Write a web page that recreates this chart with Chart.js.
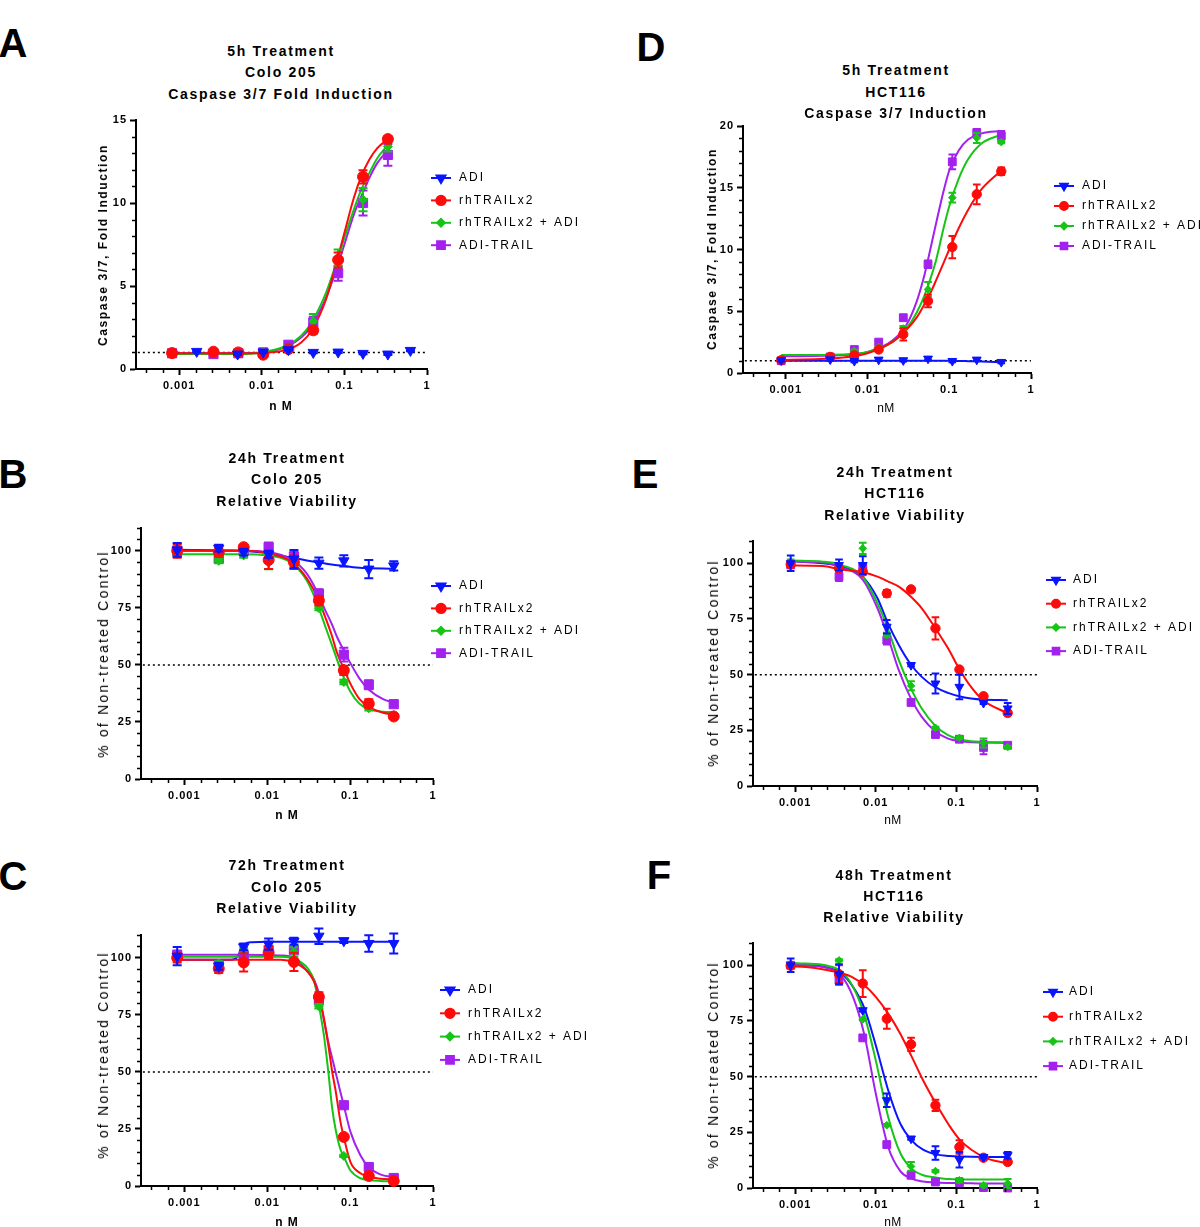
<!DOCTYPE html>
<html>
<head>
<meta charset="utf-8">
<script src="https://cdn.jsdelivr.net/npm/chart.js@4.4.1/dist/chart.umd.min.js"></script>
<style>
    body {
        margin: 0;
        background: #fff;
        overflow: hidden;
    }

    #page {
        position: relative;
        width: 1200px;
        height: 1227px;
        overflow: hidden;
        font-family: "Liberation Sans", Arial, sans-serif;
        color: #000;
    }
</style>
</head>
<body>
<div id="page"></div>
<script>
// ---- series ----
const seriesNames = ["ADI", "rhTRAILx2", "rhTRAILx2 + ADI", "ADI-TRAIL"];
const seriesColors = ["#0a14ff", "#ff0a0a", "#16c416", "#a321ee"];
const seriesShapes = ["triangle", "circle", "rectRot", "rect"];
const seriesRotation = [180, 0, 0, 0];
const seriesRadius = [6, 5.5, 4.5, 6.5];

// ---- axes ----
const xMin = 0.000316;
const xMax = 1;
const xTickVals = [0.001, 0.01, 0.1, 1];
const xTickLabels = ["0.001", "0.01", "0.1", "1"];
const xMinorExp = [-3.4, -3.2, -2.8, -2.6, -2.4, -2.2, -1.8, -1.6, -1.4, -1.2, -0.8, -0.6, -0.4, -0.2];
const caspaseTicksA = [0, 5, 10, 15];
const caspaseTicksD = [0, 5, 10, 15, 20];
const viabilityTicks = [0, 25, 50, 75, 100];

// ---- doses (nM) ----
const coloDose = [0.00082, 0.0026, 0.0052, 0.0104, 0.021, 0.042, 0.084, 0.168, 0.336];
const aAdiDose = [0.00163, 0.0051, 0.0104, 0.021, 0.042, 0.084, 0.168, 0.336, 0.63];
const hctDose = [0.00088, 0.0035, 0.0069, 0.0137, 0.0274, 0.055, 0.109, 0.217, 0.433];

// ---- A: 5h Colo 205 caspase ----
const aAdi = [1.06, 0.9, 1.02, 1.16, 1.0, 1.02, 0.94, 0.9, 1.12];
const aAdiErr = [0.05, 0.05, 0.05, 0.05, 0.05, 0.05, 0.05, 0.05, 0.05];
const aTrail = [0.96, 1.04, 1.0, 0.86, 1.2, 2.33, 6.57, 11.58, 13.85];
const aTrailErr = [0.05, 0.05, 0.05, 0.1, 0.1, 0.2, 0.45, 0.4, 0.15];
const aCombo = [1.0, 1.0, 1.0, 1.0, 1.3, 2.87, 6.7, 10.2, 13.4];
const aComboErr = [0, 0, 0, 0, 0.1, 0.45, 0.5, 0.7, 0.3];
const aFusion = [0.95, 0.9, 0.95, 1.0, 1.46, 2.8, 5.77, 10.0, 12.9];
const aFusionErr = [0, 0, 0, 0, 0.1, 0.35, 0.45, 0.75, 0.65];
const aFitX = [0.00082, 0.005, 0.01, 0.02, 0.03, 0.04, 0.06, 0.08, 0.1, 0.13, 0.16, 0.2, 0.25, 0.336];
const aFitTrail = [0.95, 0.95, 0.97, 1.15, 1.6, 2.3, 4.2, 6.4, 8.2, 10.3, 11.6, 12.6, 13.3, 13.85];
const aFitCombo = [0.9, 0.9, 1.0, 1.4, 2.0, 2.8, 4.6, 6.4, 7.9, 9.6, 10.8, 11.8, 12.7, 13.5];
const aFitFusion = [0.95, 0.95, 1.0, 1.35, 1.9, 2.6, 4.3, 6.0, 7.5, 9.3, 10.4, 11.5, 12.4, 13.2];

// ---- B: 24h Colo 205 viability ----
const bAdi = [100.4, 101.2, 99.4, 98.5, 96.4, 94.6, 95.6, 92, 93.4];
const bAdiErr = [3, 1.5, 1.5, 1.5, 4, 2.5, 2.5, 4, 2];
const bTrail = [100, 99.4, 101.6, 96, 95, 78.2, 47.6, 33, 27.4];
const bTrailErr = [3, 2, 1, 4, 3, 2, 2, 2, 0.5];
const bCombo = [98.5, 95.6, 98, 94.9, 95, 74.9, 42.5, 31, 28];
const bComboErr = [1, 1, 1, 3, 2, 1, 1, 1, 0.5];
const bFusion = [100, 96.5, 100, 101.6, 97.5, 81.2, 54.5, 41.3, 32.8];
const bFusionErr = [2, 1, 1, 2, 2, 2, 3, 2, 1];
const bFitX = [0.00082, 0.005, 0.01, 0.02, 0.03, 0.04, 0.05, 0.06, 0.07, 0.085, 0.1, 0.13, 0.17, 0.25, 0.336];
const bFitAdi = [100.5, 100, 99, 97, 95.8, 95, 94.4, 94, 93.7, 93.3, 93, 92.6, 92.4, 92.2, 92.1];
const bFitTrail = [100, 100, 99, 95, 88, 80, 71, 63, 55, 48, 42, 35, 31.5, 29, 28.3];
const bFitCombo = [98.5, 98.5, 98, 94.5, 87, 77, 67, 59, 52, 44, 38.5, 33, 30.5, 29.5, 29.3];
const bFitFusion = [100, 100, 99.5, 96, 90, 82, 74, 68, 62, 56, 51, 44, 39, 35, 33.5];

// ---- C: 72h Colo 205 viability ----
const cAdi = [100.7, 96.3, 104.8, 106, 107.3, 109.5, 107.5, 106.3, 106.3];
const cAdiErr = [4, 1.5, 1.5, 2.5, 1.5, 3.4, 1, 3.6, 4.4];
const cTrail = [100, 95.3, 98, 102.3, 98.2, 82.9, 21.5, 4.4, 2.2];
const cTrailErr = [2, 2, 4, 2.5, 4, 2, 0.5, 0.5, 0.5];
const cCombo = [100, 97.5, 103.4, 102, 102.6, 78.8, 13.2, 4, 2.5];
const cComboErr = [1, 1, 1, 1, 2, 1, 0.5, 0.5, 0.5];
const cFusion = [101.2, 97, 101, 103.4, 103.4, 81.4, 35.4, 8.3, 3.5];
const cFusionErr = [2, 1, 1, 3, 1, 1, 0.5, 0.5, 0.5];
const cFitAdiX = [0.00082, 0.0037, 0.0042, 0.0047, 0.0052, 0.0058, 0.0065, 0.01, 0.336];
const cFitAdi = [99.2, 99.2, 99.8, 102.5, 105.5, 106.6, 106.8, 107, 107];
const cFitX = [0.00082, 0.005, 0.0146, 0.0211, 0.0306, 0.0367, 0.0421, 0.0483, 0.0546, 0.0608, 0.0667, 0.0766, 0.0838, 0.101, 0.133, 0.167, 0.231, 0.336];
const cFitTrail = [99.2, 99.2, 99.2, 98, 94, 89.6, 83.5, 73.5, 61.7, 50, 42, 28, 21.5, 10.5, 5.6, 4.2, 3.2, 2.8];
const cFitCombo = [100.5, 100.5, 100.5, 99.5, 95.5, 90, 79, 66, 50, 34, 25, 16, 13, 6.8, 3.4, 2.6, 2.2, 2];
const cFitFusion = [101.3, 101.3, 101, 100, 94, 90.5, 84, 72.7, 63, 56, 50, 41, 35.4, 23.7, 13.5, 8.3, 5.1, 3.8];

// ---- D: 5h HCT116 caspase ----
const dAdi = [1.03, 1.1, 0.97, 1.08, 1.03, 1.16, 0.97, 1.08, 0.89];
const dAdiErr = [0.1, 0.1, 0.1, 0.1, 0.1, 0.1, 0.1, 0.1, 0.1];
const dTrail = [1.03, 1.3, 1.43, 1.9, 3.13, 5.83, 10.2, 14.47, 16.33];
const dTrailErr = [0.1, 0.1, 0.1, 0.1, 0.5, 0.5, 0.9, 0.8, 0.3];
const dCombo = [1.05, 1.35, 1.78, 2.1, 3.6, 6.77, 14.2, 19.03, 18.7];
const dComboErr = [0, 0, 0.1, 0.1, 0.2, 0.6, 0.4, 0.4, 0.1];
const dFusion = [1.0, 1.3, 1.9, 2.5, 4.48, 8.8, 17.1, 19.46, 19.2];
const dFusionErr = [0, 0, 0.1, 0.1, 0.2, 0.3, 0.6, 0.3, 0.4];
const dFitX = [0.00088, 0.005, 0.01, 0.02, 0.03, 0.04, 0.05, 0.06, 0.07, 0.085, 0.1, 0.13, 0.17, 0.25, 0.433];
const dFitAdi = [1.0, 1.0, 1.0, 1.0, 1.0, 1.0, 1.0, 1.0, 1.0, 0.99, 0.99, 0.98, 0.96, 0.93, 0.88];
const dFitTrail = [1.05, 1.25, 1.6, 2.5, 3.5, 4.5, 5.6, 6.6, 7.6, 8.9, 10.0, 11.7, 13.2, 14.9, 16.4];
const dFitCombo = [1.45, 1.5, 1.7, 2.5, 3.6, 4.9, 6.3, 7.8, 9.3, 11.7, 13.5, 15.7, 17.3, 18.6, 19.3];
const dFitFusion = [1.35, 1.45, 1.7, 2.6, 3.9, 5.8, 8.0, 10.3, 12.3, 14.7, 16.4, 18.0, 18.9, 19.4, 19.6];

// ---- E: 24h HCT116 viability ----
const eAdi = [100, 99.2, 99.2, 71.5, 54.3, 46, 44.5, 37.3, 34.8];
const eAdiErr = [3.5, 2.5, 4, 3, 0.5, 4.5, 5.5, 0.5, 2.5];
const eTrail = [99.5, 97.7, 96.2, 86.5, 88.3, 70.8, 52.3, 40.3, 32.8];
const eTrailErr = [1, 1, 1.5, 1.5, 0.5, 5, 0.5, 0.5, 1];
const eCombo = [100.7, 98, 106.7, 67.8, 45, 26.1, 21.6, 19.3, 17.5];
const eComboErr = [1, 1, 2.5, 1, 2, 0.5, 0.5, 2, 0.5];
const eFusion = [99.3, 94, 98, 65.5, 37.5, 23.1, 21, 17.3, 18.3];
const eFusionErr = [1, 2, 1, 2, 0.5, 1, 0.5, 3, 1];
const eFitX = [0.00088, 0.00222, 0.00348, 0.00685, 0.0105, 0.0139, 0.0193, 0.0267, 0.0372, 0.054, 0.0788, 0.1076, 0.152, 0.215, 0.433];
const eFitAdi = [101, 100, 98.8, 94, 84.3, 73.7, 63.3, 55, 49, 44.5, 41.8, 40.3, 39.3, 38.8, 38.5];
const eFitTrail = [99, 98.8, 97.3, 96, 94, 92, 89.5, 85.3, 79.8, 71.2, 61.8, 52.8, 44.5, 38.5, 32.6];
const eFitCombo = [101.2, 100.7, 99.5, 94, 82, 71.5, 56.5, 44.5, 34.8, 27.3, 22.8, 21, 20.1, 19.8, 19.5];
const eFitFusion = [100.8, 100.3, 98.5, 92.8, 79.8, 67.8, 52, 40, 31, 24.7, 21.3, 20.2, 19.6, 19.5, 19.3];

// ---- F: 48h HCT116 viability ----
const fAdi = [100, 96, 79.8, 39.4, 22.2, 15.7, 12.7, 13.9, 14.7];
const fAdiErr = [3, 4.5, 0.5, 3, 0.5, 3, 3.5, 0.5, 1.5];
const fTrail = [99.8, 96, 91.8, 76, 64.5, 37.1, 18.4, 13.6, 11.7];
const fTrailErr = [1, 4, 6, 4.5, 3, 2.5, 3, 0.5, 0.5];
const fCombo = [100.5, 102.2, 75.7, 28.2, 9.7, 7.6, 3.5, 1.2, 2];
const fComboErr = [1, 0.5, 0.5, 0.5, 2, 0.5, 1, 0.5, 2];
const fFusion = [100, 93.3, 67.4, 19.5, 5.7, 2.7, 2.4, 0.2, 0];
const fFusionErr = [1, 2, 0.5, 0.5, 0.5, 1, 1, 0.5, 0.5];
const fFitX = [0.00088, 0.00136, 0.00237, 0.0037, 0.00522, 0.00724, 0.01, 0.01426, 0.02014, 0.0278, 0.0386, 0.0558, 0.0811, 0.112, 0.219, 0.433];
const fFitAdi = [100.3, 100, 99.2, 96.5, 90.3, 80.6, 64.1, 43.9, 28.9, 21.4, 17.2, 15.1, 14.4, 14.1, 13.9, 13.9];
const fFitTrail = [99.5, 99.2, 98, 96.5, 94.5, 91, 85.8, 78.3, 69.3, 59.1, 48.4, 37.9, 28.2, 21.4, 13.9, 11];
const fFitCombo = [101, 100.8, 100, 97.4, 90.3, 77.5, 57.3, 31.9, 15.7, 8.7, 5.7, 4.7, 4, 3.9, 3.8, 3.8];
const fFitFusion = [100.5, 100, 99, 95.5, 85.8, 68.6, 42.4, 18.4, 7.6, 4.2, 2.9, 2.5, 2.3, 2.3, 2.0, 2.0];

// ---- panel texts ----
const titleA = ["5h Treatment", "Colo 205", "Caspase 3/7 Fold Induction"];
const titleB = ["24h Treatment", "Colo 205", "Relative Viability"];
const titleC = ["72h Treatment", "Colo 205", "Relative Viability"];
const titleD = ["5h Treatment", "HCT116", "Caspase 3/7 Induction"];
const titleE = ["24h Treatment", "HCT116", "Relative Viability"];
const titleF = ["48h Treatment", "HCT116", "Relative Viability"];
const caspaseLabel = "Caspase 3/7, Fold Induction";
const viabilityLabel = "% of Non-treated Control";

const page = document.getElementById("page");
const FONT = '"Liberation Sans", Arial, sans-serif';
Chart.defaults.font.family = FONT;
Chart.defaults.color = "#000";

function addText(str, x, y, css, rotate) {
    const d = document.createElement("div");
    d.textContent = str;
    d.style.cssText = "position:absolute;white-space:nowrap;line-height:1;color:#000;left:" + x + "px;top:" + y + "px;" +
        "transform:translate(-50%,-50%)" + (rotate ? " rotate(-90deg)" : "") + ";" + css;
    page.appendChild(d);
}

function pts(xs, ys) {
    return xs.map((x, i) => ({ x: x, y: ys[i] }));
}

const YW = 50, XH = 45, PT = 14, PR = 190;

function buildPanel(p) {
    const lay = p.lay;
    const left = lay.axisX - YW;
    const top = lay.top - PT;
    const w = lay.right - lay.axisX + YW + PR;
    const h = lay.bottom - lay.top + PT + XH;

    const canvas = document.createElement("canvas");
    canvas.width = w;
    canvas.height = h;
    canvas.style.cssText = "position:absolute;left:" + left + "px;top:" + top + "px;width:" + w + "px;height:" + h + "px";
    page.appendChild(canvas);

    const datasets = [];
    p.marks.forEach((m, i) => {
        datasets.push({
            data: pts(m.x, m.y),
            err: m.e,
            showLine: false,
            pointStyle: seriesShapes[i],
            pointRotation: seriesRotation[i],
            pointRadius: seriesRadius[i] * lay.ms,
            backgroundColor: seriesColors[i],
            borderColor: seriesColors[i],
            borderWidth: 1,
            clip: false,
            order: i
        });
    });
    const fitOrder = [13, 10, 11, 12];
    p.fits.forEach((f, i) => {
        if (!f) return;
        datasets.push({
            data: pts(f.x, f.y),
            borderColor: seriesColors[i],
            borderWidth: 2,
            pointRadius: 0,
            cubicInterpolationMode: "monotone",
            fill: false,
            order: fitOrder[i]
        });
    });
    datasets.push({
        data: pts([xMin, xMax], [p.refY, p.refY]),
        borderColor: "#000",
        borderWidth: 1.5,
        borderDash: [2, 3],
        pointRadius: 0,
        order: 20
    });

    const spacing = {
        id: "spacing",
        beforeDraw(chart) {
            chart.ctx.letterSpacing = "1px";
        }
    };

    const errorBars = {
        id: "errorBars",
        beforeDatasetDraw(chart, args) {
            const ds = chart.data.datasets[args.index];
            if (!ds.err) return;
            const ctx = chart.ctx;
            const xs = chart.scales.x, ys = chart.scales.y;
            const cap = 4.5 * lay.ms;
            ctx.save();
            ctx.strokeStyle = ds.borderColor;
            ctx.lineWidth = 2;
            ds.data.forEach((d, j) => {
                const e = ds.err[j];
                if (!e) return;
                const x = xs.getPixelForValue(d.x);
                const y1 = ys.getPixelForValue(d.y + e);
                const y2 = ys.getPixelForValue(d.y - e);
                ctx.beginPath();
                ctx.moveTo(x, y1); ctx.lineTo(x, y2);
                ctx.moveTo(x - cap, y1); ctx.lineTo(x + cap, y1);
                ctx.moveTo(x - cap, y2); ctx.lineTo(x + cap, y2);
                ctx.stroke();
            });
            ctx.restore();
        }
    };

    const minorTicks = {
        id: "minorTicks",
        afterDraw(chart) {
            const ctx = chart.ctx;
            const a = chart.chartArea;
            const xs = chart.scales.x, ys = chart.scales.y;
            ctx.save();
            ctx.strokeStyle = "#000";
            ctx.lineWidth = 1.5;
            ctx.beginPath();
            xMinorExp.forEach((e) => {
                const x = Math.round(xs.getPixelForValue(Math.pow(10, e))) + 0.5;
                ctx.moveTo(x, a.bottom);
                ctx.lineTo(x, a.bottom + 4);
            });
            for (let v = p.yMinor; v <= p.yMax + 1e-9; v += p.yMinor) {
                if (p.yTicks.indexOf(v) >= 0) continue;
                const y = Math.round(ys.getPixelForValue(v)) + 0.5;
                ctx.moveTo(a.left - 4, y);
                ctx.lineTo(a.left, y);
            }
            ctx.stroke();
            ctx.restore();
        }
    };

    const legend = {
        id: "gpLegend",
        afterDraw(chart) {
            const ctx = chart.ctx;
            const L = lay.legend;
            ctx.save();
            ctx.letterSpacing = "2px";
            ctx.font = "12px " + FONT;
            ctx.textBaseline = "middle";
            ctx.textAlign = "left";
            seriesNames.forEach((name, i) => {
                const x = L.x - left;
                const y = L.y + i * L.dy - top;
                ctx.strokeStyle = seriesColors[i];
                ctx.fillStyle = seriesColors[i];
                ctx.lineWidth = 2;
                ctx.beginPath();
                ctx.moveTo(x - 10, y);
                ctx.lineTo(x + 10, y);
                ctx.stroke();
                Chart.helpers.drawPoint(ctx, {
                    pointStyle: seriesShapes[i],
                    rotation: seriesRotation[i],
                    radius: seriesRadius[i] * lay.ms * 0.85,
                    borderWidth: 1
                }, x, y);
                ctx.fillStyle = "#000";
                ctx.fillText(name, L.tx - left, y);
            });
            ctx.restore();
        }
    };

    new Chart(canvas, {
        type: "line",
        data: { datasets: datasets },
        options: {
            responsive: false,
            animation: false,
            events: [],
            layout: { padding: { top: PT, right: PR, left: 0, bottom: 0 } },
            plugins: { legend: { display: false }, tooltip: { enabled: false } },
            scales: {
                x: {
                    type: "logarithmic",
                    min: xMin,
                    max: xMax,
                    afterBuildTicks: (s) => { s.ticks = xTickVals.map((v) => ({ value: v })); },
                    afterFit: (s) => { s.height = XH; },
                    ticks: {
                        autoSkip: false,
                        maxRotation: 0,
                        minRotation: 0,
                        padding: 4,
                        font: { size: 11, weight: "bold" },
                        color: "#000",
                        callback: (v) => {
                            const k = xTickVals.indexOf(v);
                            return k >= 0 ? xTickLabels[k] : "";
                        }
                    },
                    grid: { drawOnChartArea: false, drawTicks: true, tickLength: 6, tickWidth: 2, tickColor: "#000", color: "#000" },
                    border: { display: true, color: "#000", width: 2 }
                },
                y: {
                    type: "linear",
                    min: 0,
                    max: p.yMax,
                    afterBuildTicks: (s) => { s.ticks = p.yTicks.map((v) => ({ value: v })); },
                    afterFit: (s) => { s.width = YW; },
                    ticks: {
                        padding: 3,
                        font: { size: 11, weight: "bold" },
                        color: "#000"
                    },
                    grid: { drawOnChartArea: false, drawTicks: true, tickLength: 6, tickWidth: 2, tickColor: "#000", color: "#000" },
                    border: { display: true, color: "#000", width: 2 }
                }
            }
        },
        plugins: [spacing, errorBars, minorTicks, legend]
    });

    // texts
    addText(p.letter, lay.letter[0], lay.letter[1], "font:bold 40px " + FONT);
    p.title.forEach((t, i) => {
        addText(t, lay.titleX, lay.titleY[i], "font:bold 14px " + FONT + ";letter-spacing:1.7px");
    });
    addText(p.yLabel, lay.yTitle[0], lay.yTitle[1], p.yLabelCss, true);
    addText(p.xLabel, lay.xTitle[0], lay.xTitle[1], p.xLabelCss);
}

function marks(adiX, adi, adiE, trX, tr, trE, co, coE, fu, fuE) {
    return [
        { x: adiX, y: adi, e: adiE },
        { x: trX, y: tr, e: trE },
        { x: trX, y: co, e: coE },
        { x: trX, y: fu, e: fuE }
    ];
}

const boldY = "font:bold 12px " + FONT + ";letter-spacing:1.6px";
const plainY = "font:14px " + FONT + ";letter-spacing:2.2px";
const boldX = "font:bold 12px " + FONT + ";letter-spacing:1px";
const plainX = "font:12px " + FONT + ";letter-spacing:0.5px";

buildPanel({
    letter: "A", title: titleA, yLabel: caspaseLabel, yLabelCss: boldY, xLabel: "n M", xLabelCss: boldX,
    yMax: 15, yTicks: caspaseTicksA, yMinor: 1, refY: 1,
    marks: marks(aAdiDose, aAdi, aAdiErr, coloDose, aTrail, aTrailErr, aCombo, aComboErr, aFusion, aFusionErr),
    fits: [null, { x: aFitX, y: aFitTrail }, { x: aFitX, y: aFitCombo }, { x: aFitX, y: aFitFusion }],
    lay: { axisX: 136, top: 120, bottom: 369, right: 427, ms: 1, letter: [13, 43], titleX: 281, titleY: [51, 72, 94],
        yTitle: [103, 245], xTitle: [281, 406], legend: { x: 441, y: 178, dy: 22.4, tx: 459 } }
});

buildPanel({
    letter: "B", title: titleB, yLabel: viabilityLabel, yLabelCss: plainY, xLabel: "n M", xLabelCss: boldX,
    yMax: 110, yTicks: viabilityTicks, yMinor: 5, refY: 50,
    marks: marks(coloDose, bAdi, bAdiErr, coloDose, bTrail, bTrailErr, bCombo, bComboErr, bFusion, bFusionErr),
    fits: [{ x: bFitX, y: bFitAdi }, { x: bFitX, y: bFitTrail }, { x: bFitX, y: bFitCombo }, { x: bFitX, y: bFitFusion }],
    lay: { axisX: 141, top: 528, bottom: 779, right: 433, ms: 1, letter: [13, 474], titleX: 287, titleY: [458, 479, 501],
        yTitle: [103, 654], xTitle: [287, 815], legend: { x: 441, y: 586, dy: 22.4, tx: 459 } }
});

buildPanel({
    letter: "C", title: titleC, yLabel: viabilityLabel, yLabelCss: plainY, xLabel: "n M", xLabelCss: boldX,
    yMax: 110, yTicks: viabilityTicks, yMinor: 5, refY: 50,
    marks: marks(coloDose, cAdi, cAdiErr, coloDose, cTrail, cTrailErr, cCombo, cComboErr, cFusion, cFusionErr),
    fits: [{ x: cFitAdiX, y: cFitAdi }, { x: cFitX, y: cFitTrail }, { x: cFitX, y: cFitCombo }, { x: cFitX, y: cFitFusion }],
    lay: { axisX: 141, top: 935, bottom: 1186, right: 433, ms: 1, letter: [13, 876], titleX: 287, titleY: [865, 887, 908],
        yTitle: [103, 1055], xTitle: [287, 1222], legend: { x: 450, y: 990, dy: 23.3, tx: 468 } }
});

buildPanel({
    letter: "D", title: titleD, yLabel: caspaseLabel, yLabelCss: boldY, xLabel: "nM", xLabelCss: plainX,
    yMax: 20, yTicks: caspaseTicksD, yMinor: 1, refY: 1,
    marks: marks(hctDose, dAdi, dAdiErr, hctDose, dTrail, dTrailErr, dCombo, dComboErr, dFusion, dFusionErr),
    fits: [{ x: dFitX, y: dFitAdi }, { x: dFitX, y: dFitTrail }, { x: dFitX, y: dFitCombo }, { x: dFitX, y: dFitFusion }],
    lay: { axisX: 743, top: 126, bottom: 373, right: 1031, ms: 0.85, letter: [651, 47], titleX: 896, titleY: [70, 92, 113],
        yTitle: [712, 249], xTitle: [886, 408], legend: { x: 1064, y: 186, dy: 20, tx: 1082 } }
});

buildPanel({
    letter: "E", title: titleE, yLabel: viabilityLabel, yLabelCss: plainY, xLabel: "nM", xLabelCss: plainX,
    yMax: 110, yTicks: viabilityTicks, yMinor: 5, refY: 50,
    marks: marks(hctDose, eAdi, eAdiErr, hctDose, eTrail, eTrailErr, eCombo, eComboErr, eFusion, eFusionErr),
    fits: [{ x: eFitX, y: eFitAdi }, { x: eFitX, y: eFitTrail }, { x: eFitX, y: eFitCombo }, { x: eFitX, y: eFitFusion }],
    lay: { axisX: 753, top: 541, bottom: 786, right: 1037, ms: 0.85, letter: [645, 474], titleX: 895, titleY: [472, 493, 515],
        yTitle: [713, 663], xTitle: [893, 820], legend: { x: 1056, y: 580, dy: 23.7, tx: 1073 } }
});

buildPanel({
    letter: "F", title: titleF, yLabel: viabilityLabel, yLabelCss: plainY, xLabel: "nM", xLabelCss: plainX,
    yMax: 110, yTicks: viabilityTicks, yMinor: 5, refY: 50,
    marks: marks(hctDose, fAdi, fAdiErr, hctDose, fTrail, fTrailErr, fCombo, fComboErr, fFusion, fFusionErr),
    fits: [{ x: fFitX, y: fFitAdi }, { x: fFitX, y: fFitTrail }, { x: fFitX, y: fFitCombo }, { x: fFitX, y: fFitFusion }],
    lay: { axisX: 753, top: 943, bottom: 1188, right: 1037, ms: 0.85, letter: [659, 875], titleX: 894, titleY: [875, 896, 917],
        yTitle: [713, 1065], xTitle: [893, 1222], legend: { x: 1053, y: 992, dy: 24.7, tx: 1069 } }
});
</script>
</body>
</html>
